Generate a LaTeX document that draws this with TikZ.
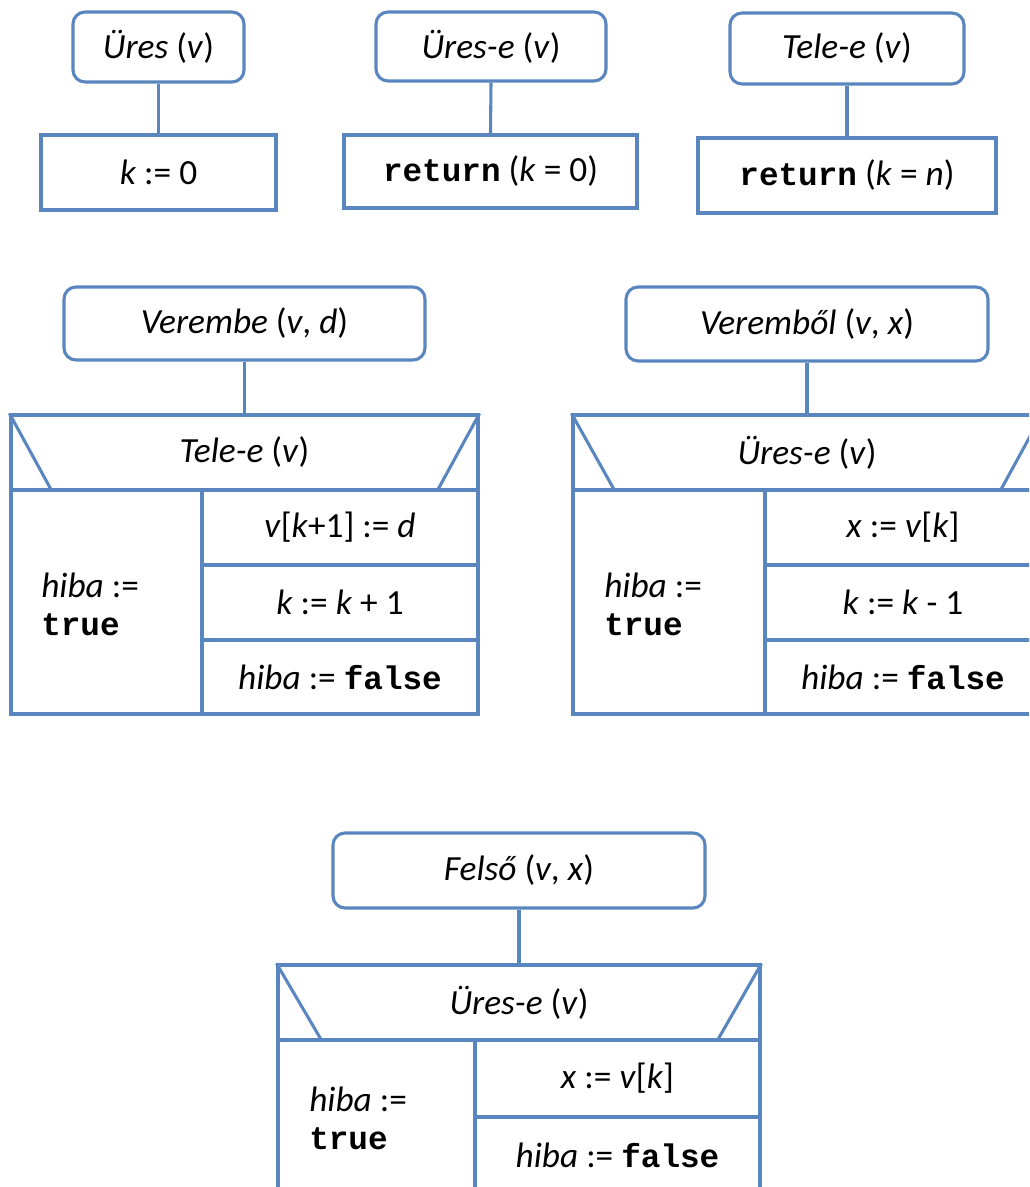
\documentclass[tikz,border=0pt]{standalone}
\usepackage{fontspec}
\setmainfont{Carlito}
\setmonofont{Liberation Mono}
\definecolor{ln}{HTML}{5A86BF}
\tikzset{
 rbox/.style={draw=ln, line width=2.3pt, rounded corners=9pt, inner sep=0pt},
 sbox/.style={draw=ln, line width=2.3pt, inner sep=0pt},
 conn/.style={draw=ln, line width=2.3pt},
 diag/.style={draw=ln, line width=2.3pt},
 ltext/.style={anchor=west, align=left, inner sep=0pt},
}
\newcommand{\cw}[1]{{\fontsize{24.5}{28.5}\selectfont\texttt{\bfseries #1}}}
% \bx{style}{name}{x1}{y1}{x2}{y2}{text}
\newcommand{\bx}[7]{\node[#1, minimum width={(#5-#3)*0.75pt}, minimum height={(#6-#4)*0.75pt}] (#2) at ({(#3+#5)/2},{(#4+#6)/2}) {#7};}
\begin{document}
\begin{tikzpicture}[x=0.75pt,y=-0.75pt, font=\fontsize{26.5}{28.5}\selectfont]
\useasboundingbox (0,0) rectangle (1029,1187);
\clip (0,0) rectangle (1029,1187);
\fill[white] (0,0) rectangle (1029,1187);

% ---- top row ----
\bx{rbox}{t1}{73}{12}{244}{82}{\textit{Üres} (\textit{v})}
\bx{sbox}{b1}{41}{135}{276}{210}{\textit{k} := 0}
\draw[conn] (t1.south) -- (b1.north);

\bx{rbox}{t2}{376}{12}{606}{81}{\textit{Üres-e} (\textit{v})}
\bx{sbox}{b2}{344}{135}{637}{208}{\cw{return} (\textit{k} = 0)}
\draw[conn] (t2.south) -- (b2.north);

\bx{rbox}{t3}{730}{13}{964}{84}{\textit{Tele-e} (\textit{v})}
\bx{sbox}{b3}{698}{138}{996}{213}{\cw{return} (\textit{k} = \textit{n})}
\draw[conn] (t3.south) -- (b3.north);

% ---- Verembe ----
\bx{rbox}{t4}{64}{287}{425}{360}{\textit{Verembe} (\textit{v}, \textit{d})}
\bx{sbox}{h4}{11}{415}{478}{490}{\textit{Tele-e} (\textit{v})}
\draw[conn] (t4.south) -- (h4.north);
\draw[diag] (h4.north west) -- ++(41,75);
\draw[diag] (h4.north east) -- ++(-41,75);
\bx{sbox}{l4}{11}{490}{202}{714}{}
\node[ltext] (lt4) at (41,604) {\textit{hiba} :=\\\cw{true}};
\bx{sbox}{r4a}{202}{490}{478}{565}{\textit{v}[\textit{k}+1] := \textit{d}}
\bx{sbox}{r4b}{202}{565}{478}{640}{\textit{k} := \textit{k} + 1}
\bx{sbox}{r4c}{202}{640}{478}{714}{\textit{hiba} := \cw{false}}

% ---- Verembol ----
\bx{rbox}{t5}{626}{287}{988}{361}{\textit{Veremből} (\textit{v}, \textit{x})}
\bx{sbox}{h5}{573}{415}{1041}{490}{\textit{Üres-e} (\textit{v})}
\draw[conn] (t5.south) -- (h5.north);
\draw[diag] (h5.north west) -- ++(42,75);
\draw[diag] (h5.north east) -- ++(-41,75);
\bx{sbox}{l5}{573}{490}{765}{714}{}
\node[ltext] (lt5) at (604,604) {\textit{hiba} :=\\\cw{true}};
\bx{sbox}{r5a}{765}{490}{1041}{565}{\textit{x} := \textit{v}[\textit{k}]}
\bx{sbox}{r5b}{765}{565}{1041}{640}{\textit{k} := \textit{k} - 1}
\bx{sbox}{r5c}{765}{640}{1041}{714}{\textit{hiba} := \cw{false}}

% ---- Felso ----
\bx{rbox}{t6}{333}{833}{705}{908}{\textit{Felső} (\textit{v}, \textit{x})}
\bx{sbox}{h6}{278}{965}{760}{1040}{\textit{Üres-e} (\textit{v})}
\draw[conn] (t6.south) -- (h6.north);
\draw[diag] (h6.north west) -- ++(44,75);
\draw[diag] (h6.north east) -- ++(-43,75);
\bx{sbox}{l6}{278}{1040}{475}{1194}{}
\node[ltext] (lt6) at (309,1118) {\textit{hiba} :=\\\cw{true}};
\bx{sbox}{r6a}{475}{1040}{760}{1117}{\textit{x} := \textit{v}[\textit{k}]}
\bx{sbox}{r6b}{475}{1117}{760}{1194}{\textit{hiba} := \cw{false}}
\end{tikzpicture}
\end{document}
